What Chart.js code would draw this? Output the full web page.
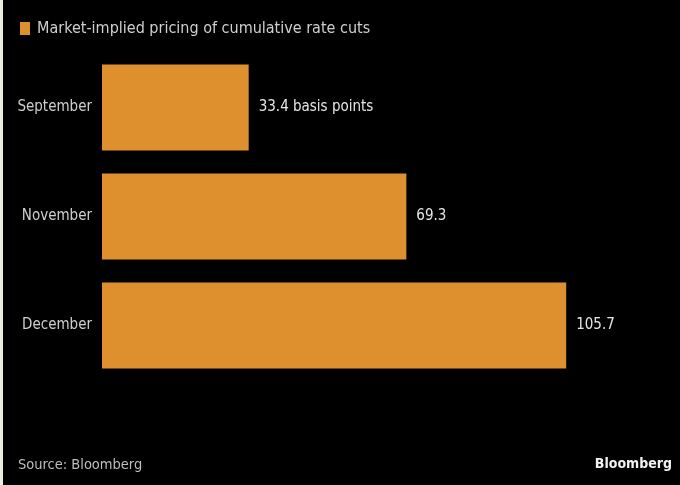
<!DOCTYPE html>
<html>
<head>
<meta charset="utf-8">
<script src="https://cdn.jsdelivr.net/npm/chart.js@4.4.1/dist/chart.umd.min.js"></script>
<style>
  html, body { margin: 0; padding: 0; background: #000; }
  #wrap { position: relative; width: 680px; height: 485px; background: #000; }
  #edge { position: absolute; left: 0; top: 0; width: 3px; height: 485px; background: #eeebdf; }
</style>
</head>
<body>
<div id="wrap">
  <canvas id="chart" width="680" height="485"></canvas>
  <div id="edge"></div>
</div>
<script>
// Chart data
const categories = ['September', 'November', 'December'];
const rateCuts = [33.4, 69.3, 105.7];
const valueLabels = ['33.4 basis points', '69.3', '105.7'];
const seriesLabel = 'Market-implied pricing of cumulative rate cuts';
const sourceText = 'Source: Bloomberg';
const brandText = 'Bloomberg';

const FONT = '"DejaVu Sans Condensed", sans-serif';
const BAR_COLOR = '#de8f2e';

// Draws legend, value labels and footer
const decorations = {
  id: 'decorations',
  afterDatasetsDraw(chart) {
    const ctx = chart.ctx;
    const meta = chart.getDatasetMeta(0);
    ctx.save();
    ctx.textBaseline = 'middle';

    // value labels at the end of each bar
    ctx.fillStyle = '#e6e6e6';
    ctx.font = '15px ' + FONT;
    ctx.textAlign = 'left';
    meta.data.forEach((bar, i) => {
      ctx.fillText(valueLabels[i], bar.x + 10, bar.y);
    });

    // legend
    ctx.fillStyle = BAR_COLOR;
    ctx.fillRect(20, 22, 10, 13);
    ctx.fillStyle = '#cfcfcf';
    ctx.font = '16px ' + FONT;
    ctx.fillText(chart.data.datasets[0].label, 37, 29);

    // footer
    ctx.fillStyle = '#bdbdbd';
    ctx.font = '14.5px ' + FONT;
    ctx.fillText(sourceText, 18, 465);
    ctx.fillStyle = '#f2f2f2';
    ctx.font = 'bold 14px ' + FONT;
    ctx.textAlign = 'right';
    ctx.fillText(brandText, 672, 464);
    ctx.restore();
  }
};

new Chart(document.getElementById('chart'), {
  type: 'bar',
  data: {
    labels: categories,
    datasets: [{
      label: seriesLabel,
      data: rateCuts,
      backgroundColor: BAR_COLOR,
      barPercentage: 0.79,
      categoryPercentage: 1
    }]
  },
  options: {
    indexAxis: 'y',
    responsive: false,
    animation: false,
    layout: { padding: { top: 53, bottom: 105, left: 0, right: 51 } },
    plugins: {
      legend: { display: false },
      tooltip: { enabled: false }
    },
    scales: {
      x: { display: false, min: 0, max: 120 },
      y: {
        grid: { display: false },
        border: { display: false },
        ticks: { color: '#cfcfcf', font: { size: 15, family: FONT }, padding: 2 },
        afterFit(scale) { scale.width = 102; }
      }
    }
  },
  plugins: [decorations]
});
</script>
</body>
</html>
